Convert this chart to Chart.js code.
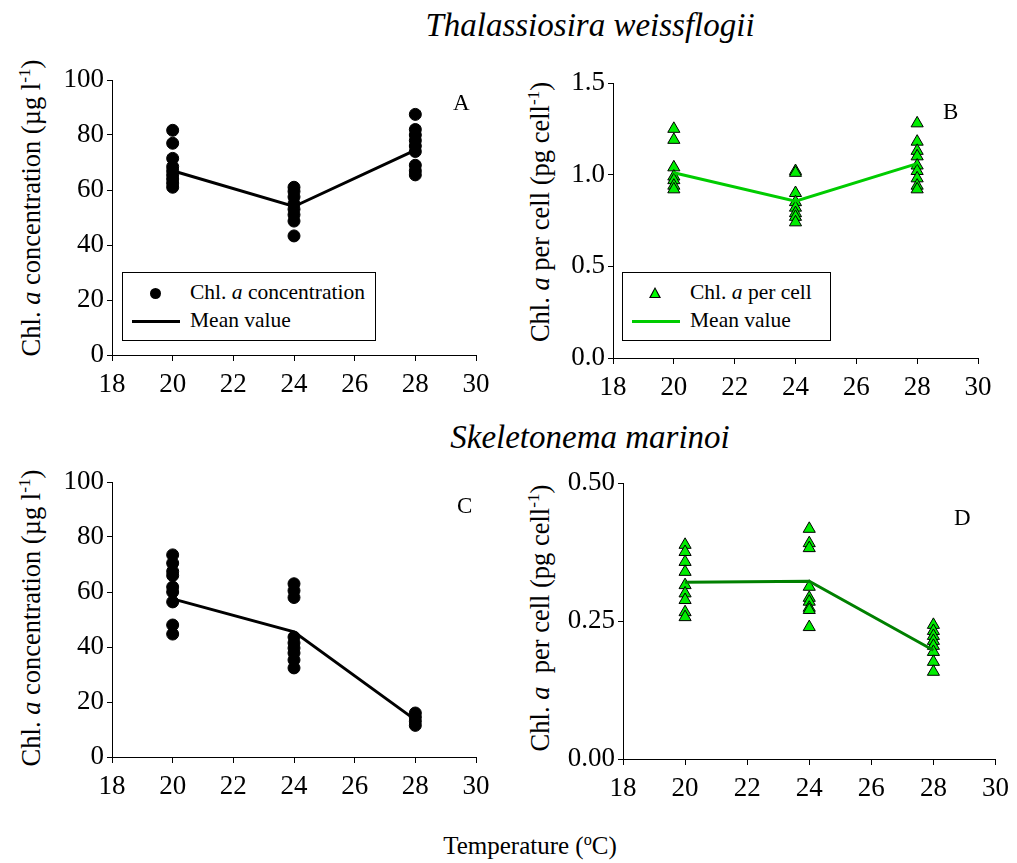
<!DOCTYPE html>
<html>
<head>
<meta charset="utf-8">
<script src="https://cdn.jsdelivr.net/npm/chart.js@4"></script>
<style>
  body { margin: 0; background: #fff; font-family: "Liberation Serif", "Times New Roman", serif; }
  #wrap { position: relative; width: 1017px; height: 863px; overflow: hidden; }
  .panel { position: absolute; }
  .txt { position: absolute; white-space: nowrap; color: #000; }
  .ytitle { position: absolute; white-space: nowrap; font-size: 26.5px; transform: translate(-50%, -50%) rotate(-90deg); }
  .sec { font-size: 33px; font-style: italic; transform: translateX(-50%); }
  .letter { font-size: 23px; }
  .legend { position: absolute; border: 1px solid #000; background: #fff; font-size: 21.5px; }
  .legend .row { position: absolute; left: 0; white-space: nowrap; }
  sup { font-size: 0.65em; vertical-align: 0.55em; line-height: 0; }
</style>
</head>
<body>
<div id="wrap">
  <div class="txt sec" style="left:590px; top:7px;">Thalassiosira weissflogii</div>
  <div class="txt sec" style="left:590px; top:419px;">Skeletonema marinoi</div>
  <div class="txt" style="left:530px; top:832px; font-size:25px; transform:translateX(-50%);">Temperature (<sup>o</sup>C)</div>

  <div class="ytitle" style="left:31px; top:208px;">Chl. <i>a</i> concentration (µg l<sup>-1</sup>)</div>
  <div class="ytitle" style="left:540px; top:212px;">Chl. <i>a</i> per cell (pg cell<sup>-1</sup>)</div>
  <div class="ytitle" style="left:31px; top:618px;">Chl. <i>a</i> concentration (µg l<sup>-1</sup>)</div>
  <div class="ytitle" style="left:540px; top:618px;">Chl. <i>a</i>&nbsp; per cell (pg cell<sup>-1</sup>)</div>

  <canvas id="chartA" class="panel" style="left:0px; top:60px;"></canvas>
  <canvas id="chartB" class="panel" style="left:510px; top:60px;"></canvas>
  <canvas id="chartC" class="panel" style="left:0px; top:462px;"></canvas>
  <canvas id="chartD" class="panel" style="left:510px; top:462px;"></canvas>

  <div class="txt letter" style="left:453px; top:90px;">A</div>
  <div class="txt letter" style="left:943px; top:99px;">B</div>
  <div class="txt letter" style="left:457px; top:493px;">C</div>
  <div class="txt letter" style="left:954px; top:505px;">D</div>

  <div class="legend" style="left:122px; top:272px; width:252px; height:67px;">
    <div style="position:absolute; left:27px; top:15px; width:11px; height:11px; border-radius:50%; background:#000;"></div>
    <div class="row" style="left:67px; top:7px;">Chl. <i>a</i> concentration</div>
    <div style="position:absolute; left:9px; top:47px; width:48px; height:3px; background:#000;"></div>
    <div class="row" style="left:67px; top:35px;">Mean value</div>
  </div>
  <div class="legend" style="left:622px; top:272px; width:207px; height:67px;">
    <div style="position:absolute; left:26px; top:14px; width:0; height:0; border-left:6px solid transparent; border-right:6px solid transparent; border-bottom:11px solid #000;"></div>
    <div style="position:absolute; left:28px; top:16px; width:0; height:0; border-left:4px solid transparent; border-right:4px solid transparent; border-bottom:8px solid #00ff00;"></div>
    <div class="row" style="left:67px; top:7px;">Chl. <i>a</i> per cell</div>
    <div style="position:absolute; left:9px; top:47px; width:48px; height:3px; background:#00cc00;"></div>
    <div class="row" style="left:67px; top:35px;">Mean value</div>
  </div>
</div>

<script>
// temperatures (x)
const temps = [20, 24, 28];
const xTicks = [18, 20, 22, 24, 26, 28, 30];

// A: Thalassiosira chl a concentration (ug/l)
const twConc20 = [81.7, 77, 71.5, 68.5, 67, 65.5, 64, 62.5, 61];
const twConc24 = [61, 59.5, 57.5, 55, 53, 51, 48.7, 43.3];
const twConc28 = [87.5, 82, 80, 78, 76, 74, 69, 67, 65.5];
const twConcMean = [67, 54, 74.5];

// B: Thalassiosira chl a per cell (pg/cell)
const twCell20 = [1.25, 1.19, 1.04, 0.99, 0.97, 0.94, 0.92];
const twCell24 = [1.02, 1.01, 0.90, 0.85, 0.82, 0.79, 0.77, 0.74];
const twCell28 = [1.28, 1.18, 1.13, 1.10, 1.05, 1.02, 0.98, 0.94, 0.92];
const twCellMean = [1.01, 0.855, 1.06];

// C: Skeletonema chl a concentration (ug/l)
const smConc20 = [73.5, 70.5, 67.5, 66, 61.8, 60, 56.4, 48, 44.7];
const smConc24 = [63, 60.5, 58, 43.6, 41.5, 39.6, 37.8, 35.3, 32.4];
const smConc28 = [16, 14.5, 13, 11.5];
const smConcMean = [57.5, 45.5, 13.5];

// D: Skeletonema chl a per cell (pg/cell)
const smCell20 = [0.388, 0.375, 0.357, 0.339, 0.315, 0.300, 0.288, 0.266, 0.257];
const smCell24 = [0.417, 0.391, 0.382, 0.312, 0.292, 0.285, 0.274, 0.270, 0.239];
const smCell28 = [0.243, 0.232, 0.223, 0.214, 0.205, 0.194, 0.176, 0.158];
const smCellMean = [0.32, 0.322, 0.197];

// y ticks
const concTicks = [0, 20, 40, 60, 80, 100];
const twCellTicks = [0, 0.5, 1.0, 1.5];
const smCellTicks = [0, 0.25, 0.5];

Chart.defaults.font.family = "'Liberation Serif', 'Times New Roman', serif";
const tickFont = { family: "'Liberation Serif', 'Times New Roman', serif", size: 27 };

function toPoints(x, arr) {
  return arr.map(v => ({ x: x, y: v }));
}

function makeChart(id, box, groups, means, yTicks, decimals, pointOpts, lineColor) {
  const canvas = document.getElementById(id);
  canvas.width = box.w;
  canvas.height = box.h;
  canvas.style.width = box.w + 'px';
  canvas.style.height = box.h + 'px';

  let pts = [];
  groups.forEach((g, i) => { pts = pts.concat(toPoints(temps[i], g)); });

  new Chart(canvas, {
    type: 'scatter',
    data: {
      datasets: [
        Object.assign({
          data: pts,
          showLine: false,
          order: 1
        }, pointOpts),
        {
          data: means.map((m, i) => ({ x: temps[i], y: m })),
          showLine: true,
          borderColor: lineColor,
          borderWidth: 3,
          pointRadius: 0,
          order: 0
        }
      ]
    },
    options: {
      responsive: false,
      animation: false,
      layout: { padding: { top: box.top, right: box.right, left: 0, bottom: 0 } },
      plugins: { legend: { display: false }, tooltip: { enabled: false } },
      scales: {
        x: {
          type: 'linear',
          min: 18, max: 30,
          afterFit: s => { s.height = box.xh; },
          afterBuildTicks: s => { s.ticks = xTicks.map(v => ({ value: v })); },
          grid: { drawOnChartArea: false, drawTicks: true, tickLength: 6, color: '#000' },
          border: { display: true, color: '#000', width: 1 },
          ticks: { color: '#000', padding: 8, maxRotation: 0, font: tickFont }
        },
        y: {
          type: 'linear',
          min: yTicks[0], max: yTicks[yTicks.length - 1],
          afterFit: s => { s.width = box.yw; },
          afterBuildTicks: s => { s.ticks = yTicks.map(v => ({ value: v })); },
          grid: { drawOnChartArea: false, drawTicks: true, tickLength: 5, color: '#000' },
          border: { display: true, color: '#000', width: 1 },
          ticks: {
            color: '#000', padding: 3,
            font: tickFont,
            callback: v => v.toFixed(decimals)
          }
        }
      }
    }
  });
}

const blackDot = { pointStyle: 'circle', pointRadius: 6, backgroundColor: '#000', borderColor: '#000', borderWidth: 1 };
const greenTri = { pointStyle: 'triangle', pointRadius: 7, backgroundColor: '#00ee00', borderColor: '#000', borderWidth: 1 };

makeChart('chartA', { w: 500, h: 340, top: 20, right: 24, yw: 112, xh: 45 },
  [twConc20, twConc24, twConc28], twConcMean, concTicks, 0, blackDot, '#000');
makeChart('chartB', { w: 500, h: 345, top: 23, right: 32, yw: 103, xh: 47 },
  [twCell20, twCell24, twCell28], twCellMean, twCellTicks, 1, greenTri, '#00cc00');
makeChart('chartC', { w: 500, h: 345, top: 20, right: 24, yw: 112, xh: 50 },
  [smConc20, smConc24, smConc28], smConcMean, concTicks, 0, blackDot, '#000');
makeChart('chartD', { w: 507, h: 345, top: 21, right: 21, yw: 113, xh: 48 },
  [smCell20, smCell24, smCell28], smCellMean, smCellTicks, 2, greenTri, '#008000');
</script>
</body>
</html>
